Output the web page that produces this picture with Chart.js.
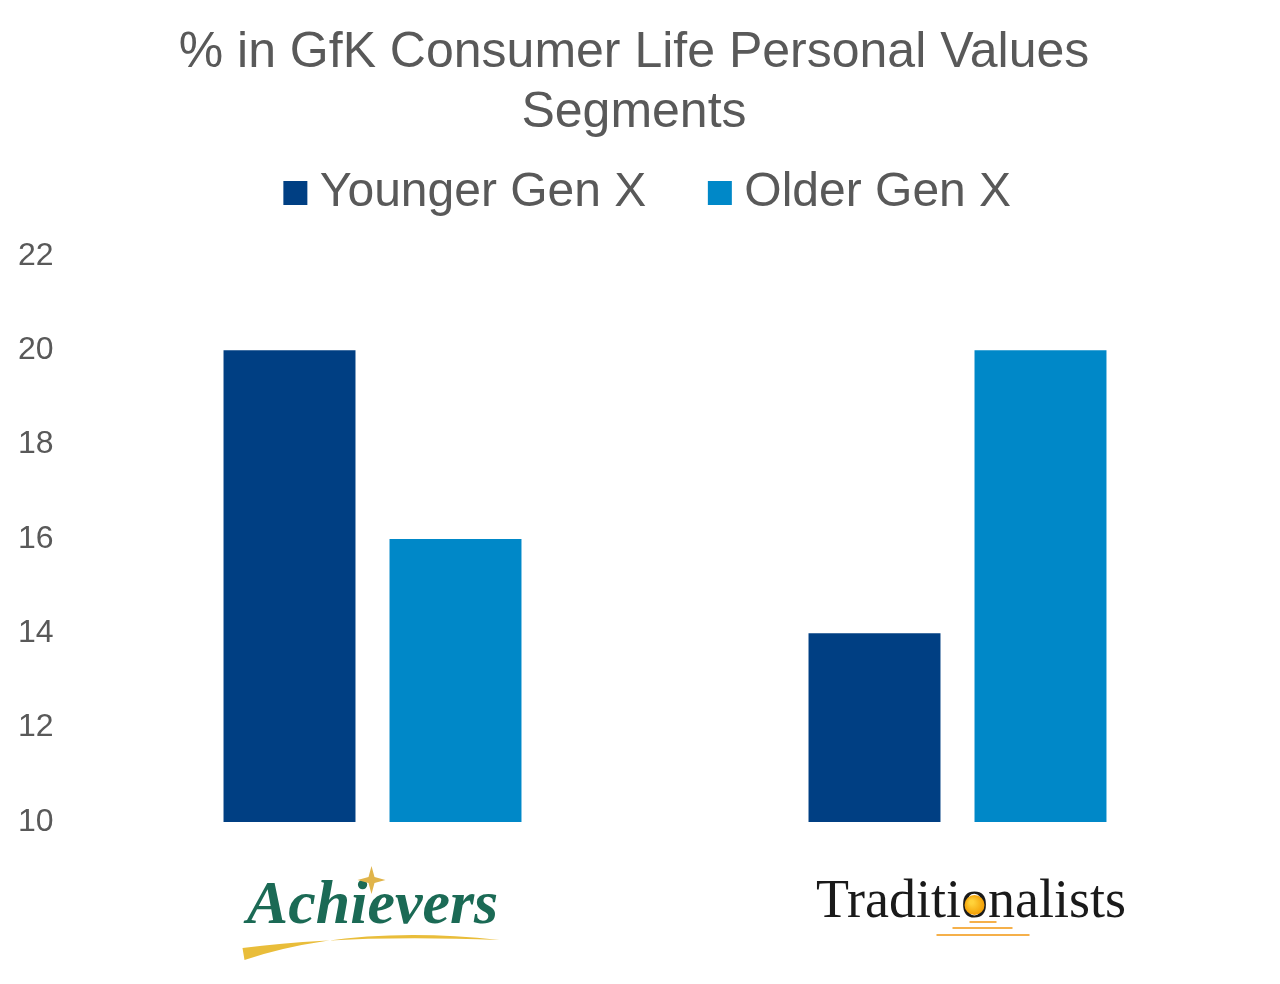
<!DOCTYPE html>
<html>
<head>
<meta charset="utf-8">
<script src="https://cdn.jsdelivr.net/npm/chart.js@4"></script>
<style>
  html, body { margin: 0; padding: 0; background: #fff; }
  #wrap { width: 1280px; height: 984px; }
</style>
</head>
<body>
<div id="wrap"><canvas id="chart" width="1280" height="984"></canvas></div>
<script>
const categories = ['Achievers', 'Traditionalists'];
const youngerGenX = [20, 14];
const olderGenX = [16, 20];
const yTicks = [10, 12, 14, 16, 18, 20, 22];

const grey = '#595959';
const sans = "'Liberation Sans', Arial, sans-serif";
const serif = "'Liberation Serif', 'DejaVu Serif', serif";
const tickFonts = [
    { family: serif, size: 62, style: 'italic', weight: 'bold' },
    { family: serif, size: 54 }
];
const tradPrefix = '\u2002';

// legend: extra gap to plot, nudged right like the original
const legendTweak = {
    id: 'legendTweak',
    beforeLayout(chart) {
        const lg = chart.legend;
        if (!lg || lg._patched) return;
        const fit = lg.fit, draw = lg.draw;
        lg.fit = function () { fit.call(this); this.height += 29; };
        lg.draw = function () {
            this.ctx.save();
            this.ctx.translate(19, 0);
            draw.call(this);
            this.ctx.restore();
        };
        lg._patched = true;
    }
};

// gold decorations under the category names (logo look)
const logoDecor = {
    id: 'logoDecor',
    afterDraw(chart) {
        const ctx = chart.ctx;
        const xs = chart.scales.x;
        const y0 = xs.top;
        ctx.save();
        // Achievers swoosh + star
        let cx = xs.getPixelForTick(0);
        ctx.fillStyle = '#e9bd3a';
        ctx.beginPath();
        ctx.moveTo(cx - 128, y0 + 138);
        ctx.quadraticCurveTo(cx - 20, y0 + 102, cx + 127, y0 + 118);
        ctx.quadraticCurveTo(cx - 20, y0 + 112, cx - 130, y0 + 126);
        ctx.closePath();
        ctx.fill();
        ctx.fillStyle = '#e0b44a';
        const sx = cx - 1, sy = y0 + 58;
        ctx.beginPath();
        ctx.moveTo(sx, sy - 14); ctx.lineTo(sx + 3, sy - 3); ctx.lineTo(sx + 14, sy);
        ctx.lineTo(sx + 3, sy + 3); ctx.lineTo(sx, sy + 14); ctx.lineTo(sx - 3, sy + 3);
        ctx.lineTo(sx - 14, sy); ctx.lineTo(sx - 3, sy - 3); ctx.closePath();
        ctx.fill();

        // Traditionalists: orange "o" sun + steps
        cx = xs.getPixelForTick(1);
        const f = tickFonts[1];
        ctx.font = f.size + 'px ' + f.family;
        const full = tradPrefix + categories[1];
        const left = cx - ctx.measureText(full).width / 2;
        const oIdx = full.indexOf('o');
        const ox = left + ctx.measureText(full.slice(0, oIdx)).width + ctx.measureText('o').width / 2;
        const oy = y0 + 83;
        const grad = ctx.createRadialGradient(ox - 3, oy - 3, 2, ox, oy, 11);
        grad.addColorStop(0, '#ffd23a');
        grad.addColorStop(1, '#f29a00');
        ctx.fillStyle = grad;
        ctx.beginPath();
        ctx.arc(ox, oy, 10, 0, Math.PI * 2);
        ctx.fill();
        ctx.strokeStyle = '#f5b04a';
        ctx.lineWidth = 2;
        [[12, 39, 100], [-5, 55, 106], [-21, 72, 113]].forEach(([a, b, dy]) => {
            ctx.beginPath();
            ctx.moveTo(cx + a, y0 + dy);
            ctx.lineTo(cx + b, y0 + dy);
            ctx.stroke();
        });
        ctx.restore();
    }
};

new Chart(document.getElementById('chart'), {
    type: 'bar',
    data: {
        labels: categories,
        datasets: [
            { label: 'Younger Gen X', data: youngerGenX, backgroundColor: '#003f83', borderWidth: 0 },
            { label: 'Older Gen X', data: olderGenX, backgroundColor: '#0088c8', borderWidth: 0 }
        ]
    },
    options: {
        responsive: false,
        animation: false,
        devicePixelRatio: 1,
        layout: { padding: { left: 18, right: 30, top: 20, bottom: 0 } },
        datasets: { bar: { barPercentage: 0.795, categoryPercentage: 0.5675 } },
        plugins: {
            title: {
                display: true,
                text: ['% in GfK Consumer Life Personal Values', 'Segments'],
                color: grey,
                font: { family: sans, size: 50, weight: 'normal' },
                lineHeight: 1.08,
                padding: { top: 3, bottom: -47 }
            },
            legend: {
                position: 'top',
                labels: {
                    color: grey,
                    font: { family: sans, size: 48 },
                    usePointStyle: true,
                    pointStyle: 'rect',
                    boxWidth: 1,
                    boxHeight: 24,
                    padding: 73
                }
            },
            tooltip: { enabled: false }
        },
        scales: {
            x: {
                grid: { display: false },
                border: { display: false },
                afterFit: s => { s.paddingLeft = 0; s.paddingRight = 0; s.height = 162; },
                ticks: {
                    padding: 40,
                    callback: (v, i) => i === 1 ? tradPrefix + categories[i] : categories[i],
                    color: ctx => ctx.index === 0 ? '#1b6a55' : '#1a1a1a',
                    font: ctx => tickFonts[ctx.index] || tickFonts[1]
                }
            },
            y: {
                min: 10,
                max: 22,
                grid: { display: false },
                border: { display: false },
                afterFit: s => { s.width = 62; },
                afterBuildTicks: axis => { axis.ticks = yTicks.map(v => ({ value: v })); },
                ticks: {
                    color: grey,
                    padding: 25,
                    crossAlign: 'far',
                    font: { family: sans, size: 32 }
                }
            }
        }
    },
    plugins: [legendTweak, logoDecor]
});
</script>
</body>
</html>
